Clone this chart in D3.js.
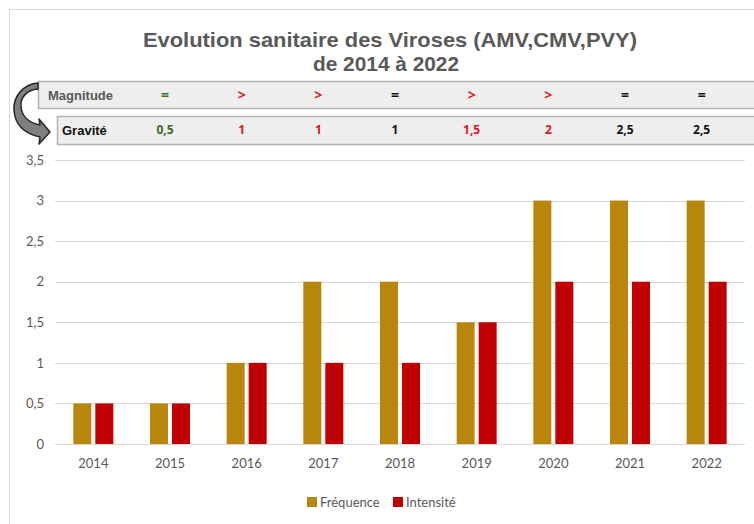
<!DOCTYPE html>
<html>
<head>
<meta charset="utf-8">
<script src="https://cdn.jsdelivr.net/npm/d3@7"></script>
<style>
  body { margin: 0; background: #fff; }
</style>
</head>
<body>
<svg id="chart" width="754" height="524"></svg>
<script>
// data
var years = ["2014", "2015", "2016", "2017", "2018", "2019", "2020", "2021", "2022"];
var frequence = [0.5, 0.5, 1, 2, 2, 1.5, 3, 3, 3];
var intensite = [0.5, 0.5, 1, 1, 1, 1.5, 2, 2, 2];
var yTicks = [0, 0.5, 1, 1.5, 2, 2.5, 3, 3.5];

// table above the plot (8 columns, 2015 -> 2022)
var tableYears = ["2015", "2016", "2017", "2018", "2019", "2020", "2021", "2022"];
var magnitude = ["=", ">", ">", "=", ">", ">", "=", "="];
var magnitudeColors = ["#3b6b1f", "#e3141c", "#e3141c", "#111", "#e3141c", "#e3141c", "#111", "#111"];
var gravite = ["0,5", "1", "1", "1", "1,5", "2", "2,5", "2,5"];
var graviteColors = ["#3b6b1f", "#e3141c", "#e3141c", "#111", "#e3141c", "#e3141c", "#111", "#111"];

var series = [
    {name: "Fréquence", values: frequence, color: "#b8860b"},
    {name: "Intensité", values: intensite, color: "#c00000"}
];

var svg = d3.select("#chart");
var fmt = function(v) { return String(v).replace(".", ","); };

// outer frame
svg.append("rect")
    .attr("x", 9.5).attr("y", 9.5)
    .attr("width", 800).attr("height", 600)
    .attr("fill", "#fff")
    .attr("stroke", "#d9d9d9");

// title
var title = svg.append("text")
    .attr("text-anchor", "middle")
    .style("font-family", "'Liberation Sans', Arial, sans-serif")
    .style("font-weight", "bold")
    .style("font-size", "21px")
    .style("fill", "#595959");
title.append("tspan").attr("x", 390).attr("y", 47)
    .attr("textLength", 494).attr("lengthAdjust", "spacingAndGlyphs")
    .text("Evolution sanitaire des Viroses (AMV,CMV,PVY)");
title.append("tspan").attr("x", 386).attr("y", 71)
    .attr("textLength", 146).attr("lengthAdjust", "spacingAndGlyphs")
    .text("de 2014 à 2022");

// scales
var x = d3.scaleBand().domain(years).range([55, 745]);
var x1 = d3.scaleBand().domain([0, 1]).range([x.bandwidth() / 2 - 20, x.bandwidth() / 2 + 20]).paddingInner(4 / 22);
var y = d3.scaleLinear().domain([0, 3.5]).range([444, 160]);

// gridlines
svg.append("g")
    .selectAll("line")
    .data(yTicks)
    .enter().append("line")
    .attr("x1", 55).attr("x2", 745)
    .attr("y1", function(d) { return Math.round(y(d)) + 0.5; })
    .attr("y2", function(d) { return Math.round(y(d)) + 0.5; })
    .attr("stroke", "#d9d9d9")
    .attr("stroke-width", 1);

// y axis labels
var yAxis = svg.append("g")
    .attr("transform", "translate(47,0)")
    .call(d3.axisLeft(y).tickValues(yTicks).tickSize(0).tickFormat(fmt));
yAxis.select(".domain").remove();
yAxis.selectAll("text")
    .style("font-family", "Lato, 'Open Sans', sans-serif")
    .style("font-size", "13px")
    .style("fill", "#595959");

// x axis labels
var xAxis = svg.append("g")
    .attr("transform", "translate(0,456)")
    .call(d3.axisBottom(x).tickSize(0));
xAxis.select(".domain").remove();
xAxis.selectAll("text")
    .style("font-family", "Lato, 'Open Sans', sans-serif")
    .style("font-size", "13px")
    .style("fill", "#595959");

// bars
var groups = svg.append("g").selectAll("g")
    .data(years)
    .enter().append("g")
    .attr("transform", function(d) { return "translate(" + x(d) + ",0)"; });

groups.selectAll("rect")
    .data(function(d, i) { return series.map(function(s, k) { return {k: k, v: s.values[i], c: s.color}; }); })
    .enter().append("rect")
    .attr("x", function(d) { return x1(d.k); })
    .attr("width", x1.bandwidth())
    .attr("y", function(d) { return y(d.v); })
    .attr("height", function(d) { return y(0) - y(d.v); })
    .attr("fill", function(d) { return d.c; });

// legend
var legend = svg.append("g").attr("transform", "translate(307,502)");
var items = legend.selectAll("g")
    .data(series)
    .enter().append("g")
    .attr("transform", function(d, i) { return "translate(" + (i * 86) + ",0)"; });
items.append("rect")
    .attr("x", 0).attr("y", -5)
    .attr("width", 10).attr("height", 10)
    .attr("fill", function(d) { return d.color; });
items.append("text")
    .attr("x", 13).attr("y", 0)
    .attr("dy", "0.35em")
    .style("font-family", "Lato, 'Open Sans', sans-serif")
    .style("font-size", "13px")
    .style("fill", "#595959")
    .text(function(d) { return d.name; });

// table rows
svg.append("rect")
    .attr("x", 38.5).attr("y", 81.5)
    .attr("width", 760).attr("height", 27)
    .attr("fill", "#eeeeee")
    .attr("stroke", "#b3b3b3")
    .attr("stroke-width", 1.5);
svg.append("rect")
    .attr("x", 57.5).attr("y", 116.5)
    .attr("width", 760).attr("height", 28)
    .attr("fill", "#eeeeee")
    .attr("stroke", "#b3b3b3")
    .attr("stroke-width", 1.5);

svg.append("text")
    .attr("x", 48).attr("y", 95).attr("dy", "0.35em")
    .style("font-family", "'Liberation Sans', Arial, sans-serif")
    .style("font-weight", "bold")
    .style("font-size", "13px")
    .style("fill", "#595959")
    .text("Magnitude");
svg.append("text")
    .attr("x", 62).attr("y", 130).attr("dy", "0.35em")
    .style("font-family", "'Liberation Sans', Arial, sans-serif")
    .style("font-weight", "bold")
    .style("font-size", "13px")
    .style("fill", "#111")
    .text("Gravité");

var colX = function(yr) { return x(yr) + x.bandwidth() / 2 - 5; };

svg.append("g").selectAll("text")
    .data(magnitude)
    .enter().append("text")
    .attr("x", function(d, i) { return colX(tableYears[i]); })
    .attr("y", 95).attr("dy", "0.35em")
    .attr("text-anchor", "middle")
    .style("font-family", "'Open Sans', sans-serif")
    .style("font-weight", "bold")
    .style("font-size", "14px")
    .style("fill", function(d, i) { return magnitudeColors[i]; })
    .text(function(d) { return d; });

svg.append("g").selectAll("text")
    .data(gravite)
    .enter().append("text")
    .attr("x", function(d, i) { return colX(tableYears[i]); })
    .attr("y", 130).attr("dy", "0.35em")
    .attr("text-anchor", "middle")
    .style("font-family", "'Open Sans', sans-serif")
    .style("font-weight", "bold")
    .style("font-size", "12px")
    .style("fill", function(d, i) { return graviteColors[i]; })
    .text(function(d) { return d; });

// curved arrow from Magnitude to Gravité
svg.append("path")
    .attr("d", "M38,89 C27,90 20,97 21,107 C22,117 30,123 40,125 L39,119 L50,132 L39,144 L40,137 C26,134 15,126 14,110 C13,96 24,84 38,83 Z")
    .attr("fill", "#7f7f7f")
    .attr("stroke", "#262626")
    .attr("stroke-width", 1.5)
    .attr("stroke-linejoin", "round");
</script>
</body>
</html>
